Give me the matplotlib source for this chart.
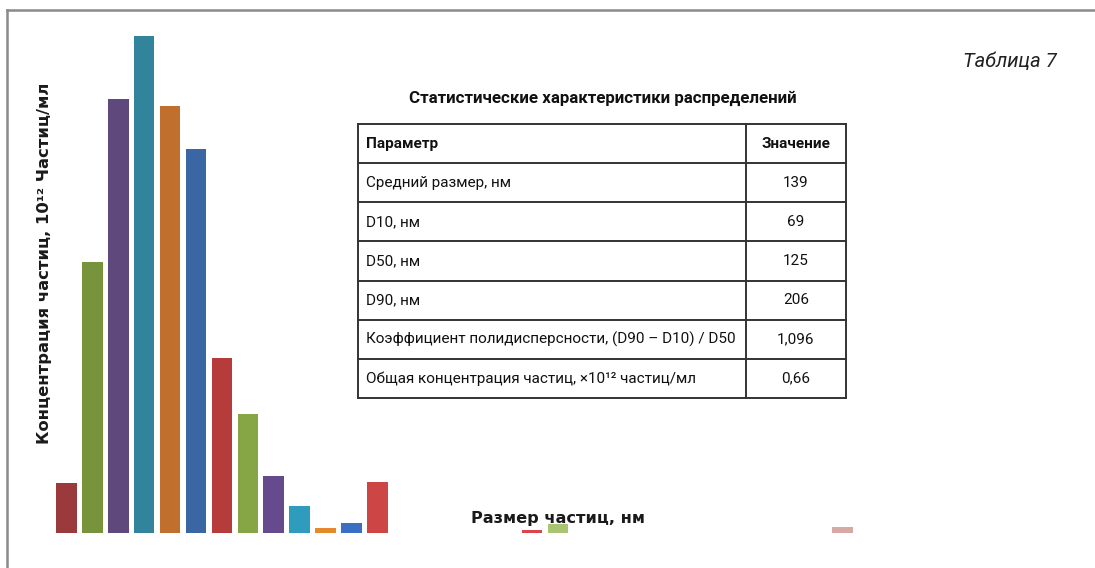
import matplotlib
matplotlib.use("Agg")
import matplotlib.pyplot as plt
from matplotlib.lines import Line2D
from matplotlib.patches import Rectangle

W, H = 1095, 568

# bar chart data (relative concentration)
bar_values = [50, 271, 434, 497, 427, 384, 175, 119, 57, 27, 5, 10, 51]
bar_colors = ["#9b3a3d", "#77933c", "#5f487c", "#31849b", "#c0702c", "#3b66a4",
              "#b53c3a", "#86a645", "#654b8e", "#2f9bbd", "#e58a2c", "#3a6fc2",
              "#cd4545"]
y_label = "Концентрация частиц, 10¹² Частиц/мл"
x_label = "Размер частиц, нм"

# table data
table_caption = "Таблица 7"
table_title = "Статистические характеристики распределений"
table_header = ["Параметр", "Значение"]
table_params = ["Средний размер, нм", "D10, нм", "D50, нм", "D90, нм",
                "Коэффициент полидисперсности, (D90 – D10) / D50",
                "Общая концентрация частиц, ×10¹² частиц/мл"]
table_values = ["139", "69", "125", "206", "1,096", "0,66"]


def fx(px):
    return px / W


def fy(py):
    return 1 - py / H


fig = plt.figure(figsize=(W / 100, H / 100), dpi=100)
fig.patch.set_facecolor("white")

# outer frame (top and left only)
fig.add_artist(Line2D([fx(7), 1], [fy(10), fy(10)], color="#8a8a8a", lw=1.8))
fig.add_artist(Line2D([fx(7), fx(7)], [fy(10), 0], color="#8a8a8a", lw=1.8))

# --- bars ---
step = 25.9
ax = fig.add_axes([fx(66.5 - 0.6 * step), fy(533), (12 + 1.2) * step / W, 500 / H])
ax.bar(range(len(bar_values)), bar_values, width=0.79, color=bar_colors)
ax.set_xlim(-0.6, len(bar_values) - 1 + 0.6)
ax.set_ylim(0, 500)
ax.axis("off")

fig.text(fx(45), fy(263), y_label, rotation=90, ha="center", va="center",
         fontsize=11.8, fontweight="bold", family="DejaVu Sans", color="#1a1a1a")
fig.text(fx(471), fy(518), x_label, ha="left", va="center",
         fontsize=11.6, fontweight="bold", family="DejaVu Sans", color="#1a1a1a")

# stray legend swatches near the axis title
fig.add_artist(Rectangle((fx(522), fy(533)), 20 / W, 3 / H, color="#d9454a", lw=0))
fig.add_artist(Rectangle((fx(548), fy(533)), 20 / W, 9 / H, color="#9bbb59", lw=0, alpha=0.85))
fig.add_artist(Rectangle((fx(832), fy(533)), 21 / W, 6 / H, color="#d8a8a4", lw=0))

# --- table ---
tfont = "Roboto"
fig.text(fx(1057), fy(62), table_caption, ha="right", va="center",
         fontsize=14.5, style="italic", family=tfont, color="#222222")
fig.text(fx(603), fy(98), table_title, ha="center", va="center",
         fontsize=12.15, fontweight="bold", family=tfont, color="#111111")

n_rows = len(table_params) + 1
t_left, t_right, t_div, t_top, t_bot = 358, 846, 746, 124, 398
tax = fig.add_axes([fx(t_left), fy(t_bot), (t_right - t_left) / W, (t_bot - t_top) / H])
tax.set_xlim(t_left, t_right)
tax.set_ylim(n_rows, 0)
tax.axis("off")
lc = "#333333"
for r in range(n_rows + 1):
    tax.plot([t_left, t_right], [r, r], color=lc, lw=1.4, clip_on=False, solid_capstyle="projecting")
tax.plot([t_left, t_left], [0, n_rows], color=lc, lw=1.4, clip_on=False)
tax.plot([t_right, t_right], [0, n_rows], color=lc, lw=1.4, clip_on=False)
tax.plot([t_div, t_div], [0, n_rows], color=lc, lw=1.4, clip_on=False)

rows = [table_header] + list(zip(table_params, table_values))
for r, (p, v) in enumerate(rows):
    wt = "bold" if r == 0 else "normal"
    tax.text(t_left + 8, r + 0.5, p, ha="left", va="center", fontsize=11.0,
             fontweight=wt, family=tfont, color="#111111")
    tax.text((t_div + t_right) / 2, r + 0.5, v, ha="center", va="center",
             fontsize=11.0, fontweight=wt, family=tfont, color="#111111")

fig.savefig("out.png", dpi=100)
